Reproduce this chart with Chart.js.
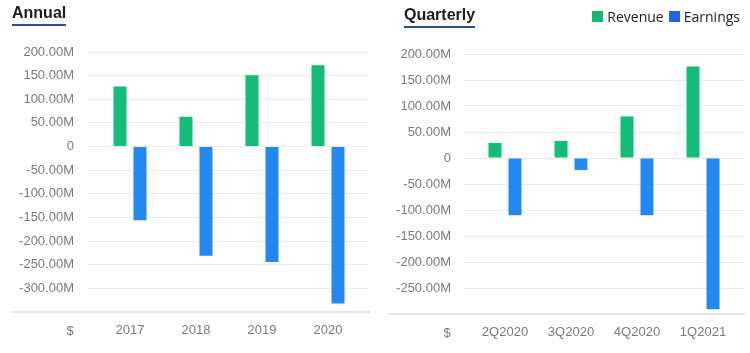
<!DOCTYPE html>
<html>
<head>
<meta charset="utf-8">
<script src="https://cdn.jsdelivr.net/npm/chart.js@4/dist/chart.umd.min.js"></script>
<style>
  body { margin: 0; background: #fff; width: 750px; height: 353px; overflow: hidden; position: relative; font-family: "Liberation Sans", Arial, sans-serif; }
  .panel { position: absolute; top: 0; width: 375px; height: 353px; }
  .panel canvas { position: absolute; left: 0; top: 0; }
  .title { position: absolute; font-weight: bold; font-size: 16px; color: #1d1d1d; line-height: 18px; border-bottom: 2px solid #2d4f8c; padding-bottom: 2px; }
  .sep { position: absolute; height: 2px; background: #e6e6e6; }
  .dollar { position: absolute; font-size: 13px; color: #7a7a7a; line-height: 15px; transform: translate(-50%, -50%); }
  .legend { position: absolute; top: 7px; right: 5px; font-family: "Open Sans", sans-serif; font-size: 14px; color: #222; display: flex; align-items: center; }
  .legend span.sw { display: inline-block; width: 11px; height: 11px; margin-right: 4px; }
  .legend span.lb { margin-right: 5px; }
</style>
</head>
<body>
<div class="panel" style="left:0">
  <canvas id="annual-chart" width="375" height="353"></canvas>
  <div class="title" style="left:12px; top:4px;">Annual</div>
  <div class="sep" style="left:12px; width:358px; top:311px;"></div>
  <div class="dollar" style="left:70px; top:330px;">$</div>
</div>
<div class="panel" style="left:375px">
  <canvas id="quarterly-chart" width="375" height="353"></canvas>
  <div class="title" style="left:29px; top:6px;">Quarterly</div>
  <div class="sep" style="left:13px; width:357px; top:313px;"></div>
  <div class="dollar" style="left:72px; top:332px;">$</div>
</div>
<div class="legend" id="legend"></div>
<script>
const annualLabels = ["2017", "2018", "2019", "2020"];
const annualRevenue = [127, 63, 151, 172];
const annualEarnings = [-156, -231, -244, -332];

const quarterLabels = ["2Q2020", "3Q2020", "4Q2020", "1Q2021"];
const quarterRevenue = [29, 33, 80, 176];
const quarterEarnings = [-110, -23, -110, -291];

const revenueColor = "#13bd77";
const earningsColor = "#2389f0";
const gridColor = "#ebebeb";
const tickColor = "#7a7a7a";

const legendItems = [
  { label: "Revenue", color: "#14b870" },
  { label: "Earnings", color: "#1f63ea" },
];

function formatMillions(value) {
  return value === 0 ? "0" : `${value.toFixed(2)}M`;
}

function buildChart(elementId, labels, revenue, earnings, opts) {
  const hideMin = (value) => value === opts.min;
  return new Chart(document.getElementById(elementId), {
    type: "bar",
    data: {
      labels,
      datasets: [
        { label: "Revenue", data: revenue, backgroundColor: revenueColor, categoryPercentage: 40 / 66, barPercentage: 0.65 },
        { label: "Earnings", data: earnings, backgroundColor: earningsColor, categoryPercentage: 40 / 66, barPercentage: 0.65 },
      ],
    },
    options: {
      responsive: false,
      devicePixelRatio: 1,
      animation: false,
      layout: { padding: { top: opts.top, right: opts.padRight, left: 0, bottom: 0 } },
      plugins: { legend: { display: false }, tooltip: { enabled: false } },
      scales: {
        x: {
          border: { display: false },
          grid: { display: false, drawTicks: false },
          ticks: { color: tickColor, font: { family: "Liberation Sans", size: 13 }, padding: opts.xPad },
          afterFit: (scale) => { scale.height = opts.xHeight; },
        },
        y: {
          min: opts.min,
          max: 200,
          border: { display: false },
          grid: {
            color: (ctx) => (ctx.tick && hideMin(ctx.tick.value) ? "rgba(0,0,0,0)" : gridColor),
            tickLength: opts.tickLeft,
          },
          ticks: {
            stepSize: 50,
            color: tickColor,
            font: { family: "Liberation Sans", size: 13 },
            padding: opts.yPad,
            callback: (value) => (hideMin(value) ? "" : formatMillions(value)),
          },
          afterFit: (scale) => { scale.width = 97; },
        },
        y2: {
          position: "right",
          min: opts.min,
          max: 200,
          border: { display: false },
          grid: {
            drawOnChartArea: false,
            color: (ctx) => (ctx.tick && hideMin(ctx.tick.value) ? "rgba(0,0,0,0)" : gridColor),
            tickLength: opts.tickRight,
          },
          ticks: { display: false, stepSize: 50 },
          afterFit: (scale) => { scale.width = opts.tickRight; },
        },
      },
    },
  });
}

function renderLegend() {
  const container = document.getElementById("legend");
  container.innerHTML = legendItems
    .map((item) => `<span class="sw" style="background:${item.color}"></span><span class="lb">${item.label}</span>`)
    .join("");
}

renderLegend();

buildChart("annual-chart", annualLabels, annualRevenue, annualEarnings, {
  min: -350, top: 52, padRight: 7, tickLeft: 10, tickRight: 7, yPad: 13, xPad: 11, xHeight: 41,
});

buildChart("quarterly-chart", quarterLabels, quarterRevenue, quarterEarnings, {
  min: -300, top: 54, padRight: 5, tickLeft: 9, tickRight: 9, yPad: 12, xPad: 11, xHeight: 39,
});
</script>
</body>
</html>
